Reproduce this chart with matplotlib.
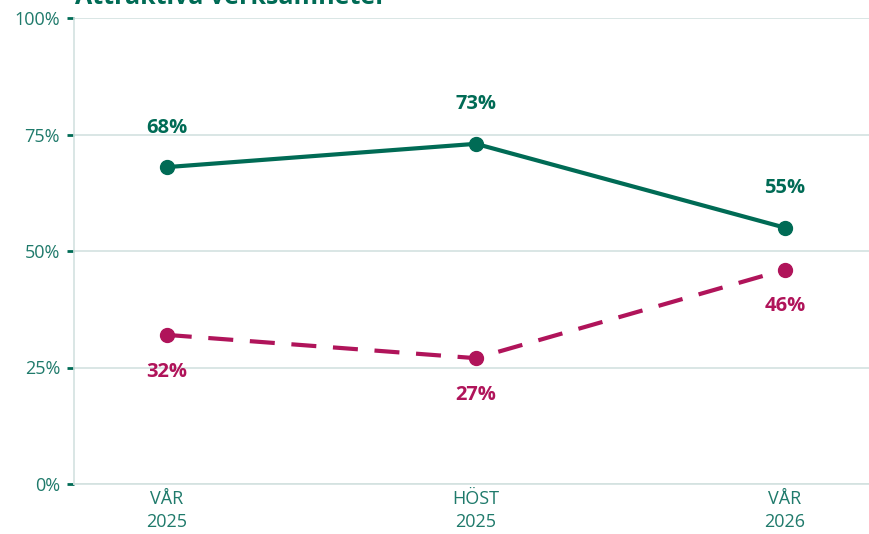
import matplotlib
matplotlib.use("Agg")
import matplotlib.pyplot as plt

categories = ["VÅR\n2025", "HÖST\n2025", "VÅR\n2026"]
series_green = [68, 73, 55]
series_magenta = [32, 27, 46]
title = "Attraktiva verksamheter"
yticks = [0, 25, 50, 75, 100]
ytick_labels = ["0%", "25%", "50%", "75%", "100%"]

GREEN = "#006B55"
MAGENTA = "#B0145A"
TICK = "#1F7A6B"
GRID = "#D3E2E0"

plt.rcParams['font.family'] = ['Open Sans', 'DejaVu Sans']

fig = plt.figure(figsize=(8.7, 5.34), dpi=100)
ax = fig.add_axes([74/870, 50/534, 796/870, 466/534])

x = list(range(len(categories)))
ax.plot(x, series_green, color=GREEN, lw=3, marker='o', ms=10, zorder=3)
ax.plot(x, series_magenta, color=MAGENTA, lw=3, marker='o', ms=10, zorder=3,
        dashes=(6, 4))

for xi, v in zip(x, series_green):
    ax.annotate(f"{v}%", (xi, v), xytext=(0, 28.5), textcoords='offset points',
                ha='center', va='center', color=GREEN, fontsize=14.5,
                fontweight='bold')
for xi, v in zip(x, series_magenta):
    ax.annotate(f"{v}%", (xi, v), xytext=(0, -26.5), textcoords='offset points',
                ha='center', va='center', color=MAGENTA, fontsize=14.5,
                fontweight='bold')

ax.set_xlim(-0.30, 2.275)
ax.set_ylim(0, 100)
ax.set_yticks(yticks)
ax.set_yticklabels(ytick_labels)
ax.set_xticks(x)
ax.set_xticklabels(categories, linespacing=1.4)
ax.grid(axis='y', color=GRID, lw=1.2)
ax.set_axisbelow(True)
for s in ['top', 'right']:
    ax.spines[s].set_visible(False)
ax.spines['left'].set_color(GRID)
ax.spines['bottom'].set_color(GRID)
ax.spines['left'].set_linewidth(1.2)
ax.spines['bottom'].set_linewidth(1.2)
ax.tick_params(axis='y', colors=GREEN, labelcolor=TICK, length=5, width=2,
               labelsize=13, pad=5)
ax.tick_params(axis='x', length=0, labelcolor=TICK, labelsize=13, pad=4)

fig.text(75/870, 1 - 4/534, title, color=GREEN, fontsize=18, fontweight='bold',
         ha='left', va='baseline')

fig.savefig("out.png", dpi=100)
